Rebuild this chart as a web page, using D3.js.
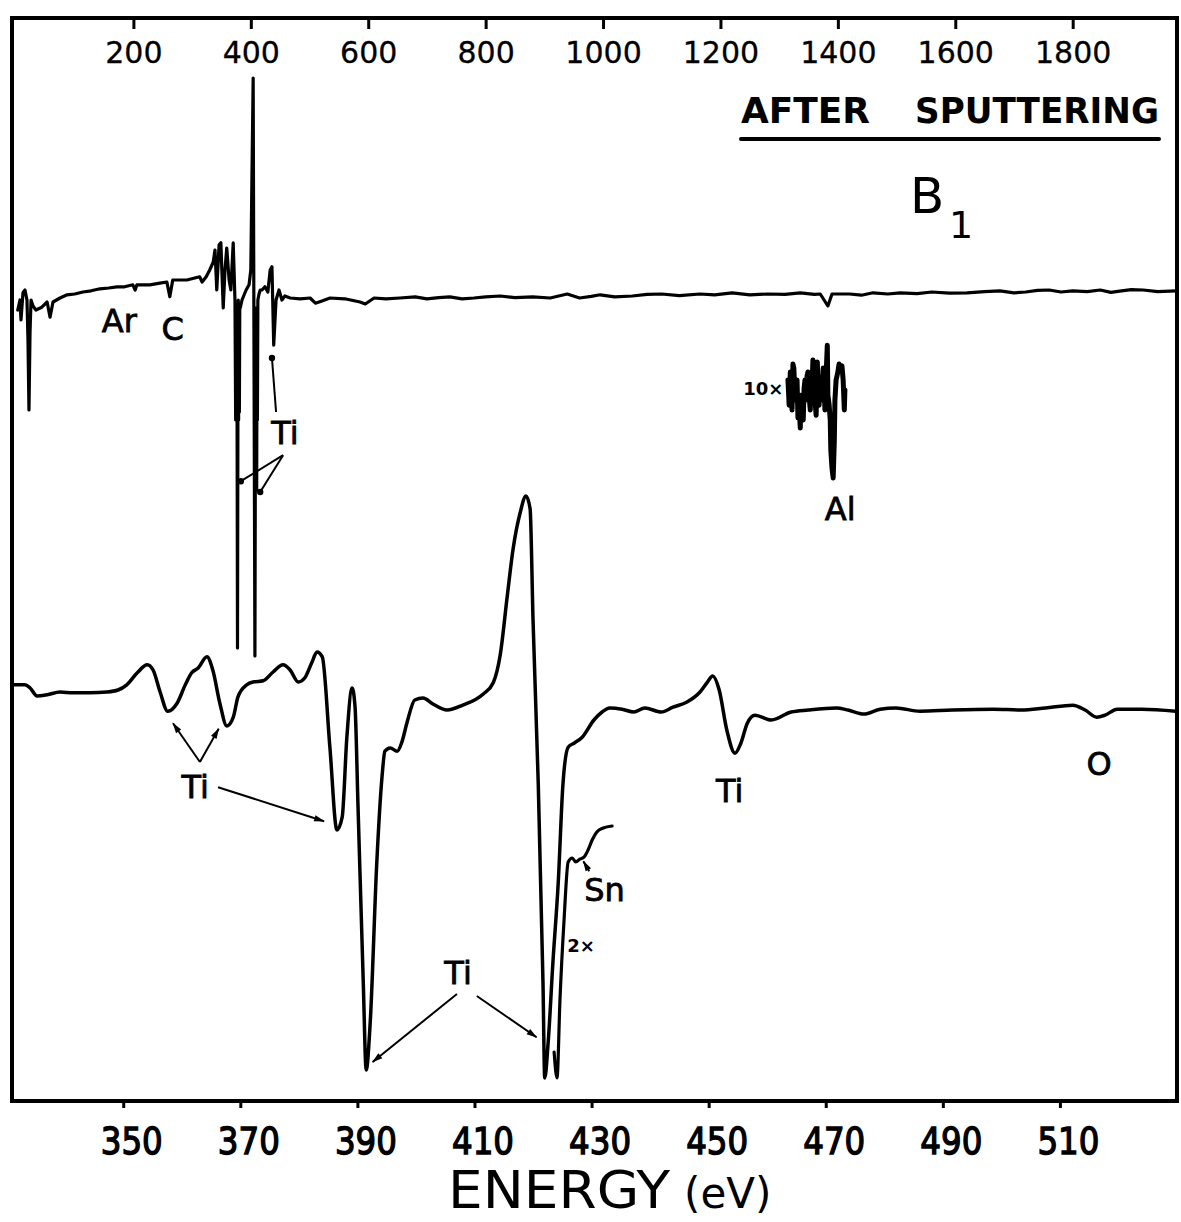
<!DOCTYPE html>
<html>
<head>
<meta charset="utf-8">
<script src="https://cdn.jsdelivr.net/npm/d3@7"></script>
<style>
  html, body { margin: 0; padding: 0; background: #fff; }
  svg { display: block; }
</style>
</head>
<body>
<svg id="chart" width="1181" height="1222"></svg>
<script>
// ---- Data -------------------------------------------------------------
// Survey spectrum (upper trace): [energy eV, dN/dE arb. units], top axis
const surveyTrace = [
  [3, -2.5], [6.8, 0], [8.5, -5], [11.9, 1.8], [15.3, 2.5], [18.7, 0], [20.4, -10],
  [22.1, -27.5], [23.9, -8], [25.6, 0], [29, -1.5], [34, -2.5], [44, -1.8], [53, -0.5],
  [58, -4.3], [63, -0.5], [75, 0.5], [87, 1.3], [100, 1.5], [114, 2], [128, 2.3], [143, 2.8],
  [158, 3], [172, 3.3], [185, 3.3], [199, 3.8], [203, 2.5], [206, 3.8], [228, 3.8], [245, 4.2],
  [257, 4.5], [262, 0.8], [267, 5], [291, 5], [313, 5.8], [317, 4.5], [324, 5.8], [330, 7.5],
  [336, 9.5], [339, 12.5], [342, 2.5], [346, 13.8], [349, 14.3], [353, -2], [356, 7.5],
  [359, 13], [363, 5], [366, 2.5], [370, 14.3], [373, 0], [374.2, -30], [374.8, -2],
  [375.5, -30], [376.1, -1], [376.6, -30], [377.3, -87], [378, -30], [378.6, 0],
  [379.2, -30], [379.8, -2], [380.5, -28], [381.2, -1], [382, -2],
  [385, 0], [392, 2.5], [397, 3.8], [400, 7.5], [404, 55.5], [407, -89], [407.6, -47.5],
  [408.2, -2], [408.8, -47.5], [409.4, -3], [410, -47.5], [410.6, -3], [411.2, -30], [412, 0], [414, 1.5], [416, 2.5], [419, 2.5],
  [424, 3.3], [429, 2], [433, 7.5], [436, 8.3], [439, -11.3], [443, 0], [448, 2.5], [453, 0],
  [458, 1], [467, 0.5], [484, 0.3], [501, 0.5], [510, -0.8], [520, -0.3], [535, 0.5],
  [560, 0.3], [586, -0.5], [595, -1], [610, 0.5], [630, 0.3], [654, 0.5], [680, 0.8],
  [700, 0.3], [720, 0.6], [739, 0.8], [760, 0.3], [780, 0.5], [800, 0.8], [825, 1],
  [850, 0.6], [880, 0.8], [910, 0.5], [939, 1.5], [960, 0.5], [980, 0.9], [995, 1.3],
  [1020, 0.8], [1050, 1], [1075, 1.4], [1100, 1.5], [1130, 1.1], [1165, 1.5], [1190, 1.3],
  [1220, 1.8], [1250, 1.3], [1280, 1.5], [1310, 1.4], [1336, 1.8], [1360, 1.4], [1370, 1.5],
  [1383, -1.5], [1390, 1.5], [1420, 1.5], [1440, 1.2], [1460, 1.8], [1485, 1.5], [1506, 1.8],
  [1535, 1.6], [1560, 2], [1590, 1.7], [1620, 1.8], [1650, 2.1], [1676, 2.3], [1700, 1.8],
  [1720, 2], [1740, 2.4], [1760, 2.5], [1780, 2], [1800, 2.3], [1825, 2.1], [1847, 2.5],
  [1865, 1.9], [1880, 2.2], [1900, 2.6], [1920, 2.5], [1945, 2.1], [1976, 2.3]
];

// Al region recorded at 10x gain: [energy eV, arb. units], top axis
const alInset10x = [
  [1315, -20], [1317, -26.3], [1319, -18], [1320.5, -24], [1322, -27.5], [1323.5, -16],
  [1325, -17], [1327, -24], [1329, -25], [1330.5, -20], [1332, -29.5], [1334, -27],
  [1336, -32], [1337, -23.8], [1339, -26], [1341, -30], [1342.5, -22], [1344, -20],
  [1346, -25], [1347.5, -19], [1349, -18], [1351, -24], [1353, -27.5], [1354.5, -19],
  [1356, -21.3], [1357.5, -15], [1359, -17], [1361, -25], [1363, -28.8], [1365, -15.5],
  [1366.5, -22], [1368, -26.3], [1370, -19.5], [1371.5, -25], [1373, -23.8], [1375, -17],
  [1376.5, -22], [1378, -27.5], [1380, -18.8], [1382, -11.3], [1383, -23.8], [1385, -26],
  [1387, -30], [1388, -37.5], [1390, -42], [1392, -44.5], [1394, -35], [1395, -25],
  [1397, -20], [1400, -18], [1402, -16], [1404, -17], [1407, -16.5], [1409, -20],
  [1411, -27.5], [1412, -22.5]
];

// High resolution scan (lower trace): [energy eV, dN/dE arb. units], bottom axis
const detailTrace = [
  [331.2, 3.8], [333.2, 3.8], [334.1, 3], [335.3, 1], [337, 1.3], [339.2, 2], [341.4, 1.8],
  [344.3, 1.8], [347.2, 2], [349.1, 2.5], [350.6, 3.8], [352.4, 6.8], [354.1, 8.8],
  [355.1, 7.5], [356.3, 2], [357.6, -2.8], [359.2, -0.8], [360.6, 3.8], [361.7, 6.8],
  [362.8, 8], [364.3, 10.8], [365.3, 7.5], [366.5, -0.8], [367.7, -6.5], [368.8, -4.3],
  [369.6, 0.8], [371.1, 3.8], [372.2, 4.5], [373.9, 4.8], [375.6, 7], [377.3, 8.8],
  [378.5, 7.5], [379.9, 4.5], [381, 5.5], [382.2, 9.3], [383.1, 12], [384, 10.8],
  [385.3, -11.8], [386.5, -32.5], [387.4, -29.3], [388.2, -9.3], [389.1, 3], [389.6, -1.8],
  [390.1, -26.3], [391, -70.5], [391.5, -92.5], [392.2, -80.3], [393.3, -41], [394.2, -19.3],
  [394.7, -12.8], [395.6, -12], [396.8, -12.8], [397.6, -10.5], [398.5, -5.5], [399.8, 0],
  [401.2, 0.5], [402.9, -1], [405.3, -2.5], [408, -1.3], [411.5, 1.5], [413.2, 4.3],
  [414.4, 11.3], [415.6, 26], [416.6, 37.8], [417.8, 46.8], [418.8, 51], [419.5, 47.8],
  [420, 20], [420.9, -21.3], [421.7, -70.5], [422, -94.5], [422.6, -85.3], [423.4, -65.5],
  [424.3, -45.8], [425.1, -21.3], [426, -11.8], [427, -10.8], [428.4, -9.3], [430.4, -5],
  [431.8, -3], [433.1, -2], [435.2, -2.3], [437.2, -3], [439.1, -2], [441.9, -3],
  [443.9, -1.8], [446.3, -0.5], [448.4, 1.8], [449.7, 4.3], [450.7, 6], [451.8, 2.5],
  [453.1, -7.5], [454.5, -13.3], [455.5, -10.8], [456.6, -5.8], [457.9, -3.8], [460.7, -5],
  [464.1, -3], [467, -2.5], [471.8, -2], [473.8, -2.5], [476.5, -3.5], [479.3, -2.3],
  [482, -2], [486.1, -2.8], [491.6, -2.5], [498.6, -2.3], [503.4, -2.5], [507.5, -2],
  [512.2, -1.3], [514.3, -2.5], [516.3, -4.3], [517.7, -3.8], [519.8, -2.3], [524, -2.3],
  [529.8, -2.8]
];

// Sn region recorded at 2x gain: [energy eV, arb. units], bottom axis
const snInset2x = [
  [423.6, -88], [424.1, -94.5], [424.6, -75], [425.3, -55], [426, -40.5], [426.7, -39.5],
  [427.3, -40.5], [428, -39.8], [428.7, -39.3], [429.4, -37.5], [430.1, -35], [430.9, -33],
  [432, -32], [433.5, -31.5]
];

// Axis tick values
const topTicks = [200, 400, 600, 800, 1000, 1200, 1400, 1600, 1800];
const bottomTicks = [350, 370, 390, 410, 430, 450, 470, 490, 510];

// Peak labels, placed in data units of their trace
const surveyLabels = [
  { text: "Ar", e: 176, v: -8 },
  { text: "C", e: 267, v: -10 },
  { text: "Ti", e: 458, v: -36 },
  { text: "Al", e: 1404, v: -55 }
];
const detailLabels = [
  { text: "Ti", e: 362.3, v: -24.5 },
  { text: "Ti", e: 407.2, v: -71 },
  { text: "Ti", e: 453.6, v: -25.5 },
  { text: "O", e: 516.7, v: -18.8 },
  { text: "Sn", e: 432.2, v: -50.3 }
];
// Leader lines: [from e, from v, to e, to v]
const surveyLeaders = [
  [443, -28, 436, -14.5],
  [455, -38.8, 383, -45.3],
  [455, -38.8, 416, -48]
];
const detailLeaders = [
  [363.1, -15.5, 358.5, -5.8],
  [363.1, -15.5, 366.3, -7.2],
  [366.2, -21.8, 384.3, -30.3],
  [407, -73.5, 392.6, -90.5],
  [410.4, -74, 420.6, -84.3],
  [429.6, -42.8, 428.6, -40.3]
];

// ---- Scales -----------------------------------------------------------
const svg = d3.select("#chart");
const frame = { left: 12, right: 1177, top: 18, bottom: 1101 };

const xTop = d3.scaleLinear().domain([0, 1976]).range([16, 1176]);
const xBot = d3.scaleLinear().domain([331, 530]).range([12, 1177]);
const ySurvey = d3.scaleLinear().domain([-100, 60]).range([700, 60]);
const yDetail = d3.scaleLinear().domain([-100, 60]).range([1100, 460]);

const FONT = "'DejaVu Sans', 'Liberation Sans', sans-serif";

svg.append("rect").attr("width", 1181).attr("height", 1222).attr("fill", "#fff");

// markers for the leader lines
const defs = svg.append("defs");
defs.append("marker")
  .attr("id", "dot").attr("viewBox", "-5 -5 10 10")
  .attr("markerWidth", 8).attr("markerHeight", 8)
  .attr("markerUnits", "userSpaceOnUse")
  .append("circle").attr("r", 4).attr("fill", "#000");
defs.append("marker")
  .attr("id", "head").attr("viewBox", "0 -5 12 10")
  .attr("refX", 11).attr("refY", 0)
  .attr("markerWidth", 13).attr("markerHeight", 9)
  .attr("markerUnits", "userSpaceOnUse")
  .attr("orient", "auto")
  .append("path").attr("d", "M0,-3.5 L12,0 L0,3.5 Z").attr("fill", "#000");

// ---- Frame & axes -----------------------------------------------------
svg.append("rect")
  .attr("x", frame.left).attr("y", frame.top)
  .attr("width", frame.right - frame.left)
  .attr("height", frame.bottom - frame.top)
  .attr("fill", "none").attr("stroke", "#000").attr("stroke-width", 4);

const topAxis = svg.append("g")
  .attr("transform", `translate(0,${frame.top})`)
  .call(d3.axisBottom(xTop).tickValues(topTicks).tickFormat(d3.format("d"))
    .tickSize(11).tickPadding(13));
topAxis.select(".domain").remove();
topAxis.selectAll("line").attr("stroke", "#000").attr("stroke-width", 3);
topAxis.selectAll("text")
  .attr("font-family", FONT).attr("font-size", 30).attr("fill", "#000")
  .attr("stroke", "#000").attr("stroke-width", 0.3);

const botAxis = svg.append("g")
  .attr("transform", `translate(0,${frame.bottom})`)
  .call(d3.axisBottom(xBot).tickValues(bottomTicks).tickFormat(d3.format("d"))
    .tickSize(7).tickPadding(20));
botAxis.select(".domain").remove();
botAxis.selectAll("line").attr("stroke", "#000").attr("stroke-width", 3);
botAxis.selectAll("text")
  .attr("font-family", FONT).attr("font-size", 37).attr("fill", "#000")
  .attr("dx", 8)
  .attr("stroke", "#000").attr("stroke-width", 1.4)
  .attr("textLength", 62).attr("lengthAdjust", "spacingAndGlyphs");

// axis title
const title = svg.append("text")
  .attr("x", 448).attr("y", 1208)
  .attr("font-family", FONT).attr("fill", "#000");
title.append("tspan").attr("font-size", 52).attr("textLength", 222)
  .attr("lengthAdjust", "spacingAndGlyphs").text("ENERGY");
title.append("tspan").attr("dx", 14).attr("font-size", 42).text("(eV)");

// ---- Header text ------------------------------------------------------
svg.append("text").attr("x", 741).attr("y", 123)
  .attr("font-family", FONT).attr("font-weight", "bold").attr("font-size", 35)
  .attr("textLength", 129).attr("lengthAdjust", "spacingAndGlyphs").text("AFTER");
svg.append("text").attr("x", 915).attr("y", 123)
  .attr("font-family", FONT).attr("font-weight", "bold").attr("font-size", 35)
  .attr("textLength", 244).attr("lengthAdjust", "spacingAndGlyphs").text("SPUTTERING");
svg.append("line").attr("x1", 741).attr("x2", 1159).attr("y1", 139).attr("y2", 139)
  .attr("stroke", "#000").attr("stroke-width", 4).attr("stroke-linecap", "round");

svg.append("text").attr("x", 910).attr("y", 213)
  .attr("font-family", FONT).attr("font-size", 50).attr("fill", "#000").text("B");
svg.append("text").attr("x", 949).attr("y", 238)
  .attr("font-family", FONT).attr("font-size", 38).attr("fill", "#000").text("1");

// ---- Traces -----------------------------------------------------------
const surveyLine = d3.line().x(d => xTop(d[0])).y(d => ySurvey(d[1]));
const detailLine = d3.line().x(d => xBot(d[0])).y(d => yDetail(d[1]))
  .curve(d3.curveMonotoneX);

svg.append("path").datum(surveyTrace).attr("d", surveyLine)
  .attr("fill", "none").attr("stroke", "#000").attr("stroke-width", 3.2)
  .attr("stroke-linejoin", "round").attr("stroke-linecap", "round");

svg.append("path").datum(alInset10x).attr("d", surveyLine)
  .attr("fill", "none").attr("stroke", "#000").attr("stroke-width", 5)
  .attr("stroke-linejoin", "round").attr("stroke-linecap", "round");

svg.append("path").datum(detailTrace).attr("d", detailLine)
  .attr("fill", "none").attr("stroke", "#000").attr("stroke-width", 3.5)
  .attr("stroke-linejoin", "round").attr("stroke-linecap", "round");

svg.append("path").datum(snInset2x).attr("d", detailLine)
  .attr("fill", "none").attr("stroke", "#000").attr("stroke-width", 3.2)
  .attr("stroke-linejoin", "round").attr("stroke-linecap", "round");

// ---- Labels & leaders -------------------------------------------------
svg.selectAll(".survey-label").data(surveyLabels).join("text")
  .attr("class", "survey-label")
  .attr("x", d => xTop(d.e)).attr("y", d => ySurvey(d.v))
  .attr("text-anchor", "middle").attr("font-family", FONT).attr("font-size", 32)
  .attr("fill", "#000").attr("stroke", "#000").attr("stroke-width", 0.8)
  .text(d => d.text);

svg.selectAll(".detail-label").data(detailLabels).join("text")
  .attr("class", "detail-label")
  .attr("x", d => xBot(d.e)).attr("y", d => yDetail(d.v))
  .attr("text-anchor", "middle").attr("font-family", FONT).attr("font-size", 32)
  .attr("fill", "#000").attr("stroke", "#000").attr("stroke-width", 0.8)
  .text(d => d.text);

// gain notes
svg.append("text").attr("x", xTop(1273)).attr("y", ySurvey(-23.8))
  .attr("text-anchor", "middle").attr("font-family", FONT).attr("font-weight", "bold")
  .attr("font-size", 18).attr("fill", "#000").text("10×");
svg.append("text").attr("x", xBot(428.2)).attr("y", yDetail(-63))
  .attr("text-anchor", "middle").attr("font-family", FONT).attr("font-weight", "bold")
  .attr("font-size", 18).attr("fill", "#000").text("2×");

svg.selectAll(".survey-leader").data(surveyLeaders).join("line")
  .attr("class", "survey-leader")
  .attr("x1", d => xTop(d[0])).attr("y1", d => ySurvey(d[1]))
  .attr("x2", d => xTop(d[2])).attr("y2", d => ySurvey(d[3]))
  .attr("stroke", "#000").attr("stroke-width", 2).attr("marker-end", "url(#dot)");

svg.selectAll(".detail-leader").data(detailLeaders).join("line")
  .attr("class", "detail-leader")
  .attr("x1", d => xBot(d[0])).attr("y1", d => yDetail(d[1]))
  .attr("x2", d => xBot(d[2])).attr("y2", d => yDetail(d[3]))
  .attr("stroke", "#000").attr("stroke-width", 2).attr("marker-end", "url(#head)");
</script>
</body>
</html>
